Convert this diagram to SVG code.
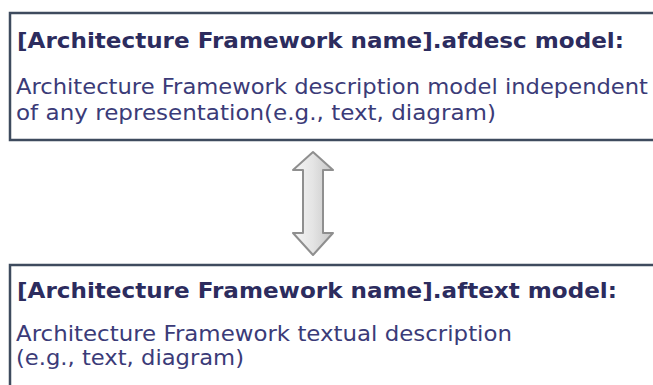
<svg xmlns="http://www.w3.org/2000/svg" width="653" height="385" viewBox="0 0 653 385">
<style>
.box{fill:#ffffff;stroke:#3e4b5e;stroke-width:2.5}
.title{font-family:"DejaVu Sans",Verdana,sans-serif;font-weight:bold;font-size:21px;fill:#2c2c5e}
.body{font-family:"DejaVu Sans",Tahoma,sans-serif;font-size:22px;fill:#3b3b78}
.arrow{fill:url(#ag);stroke:#8f8f8f;stroke-width:2;stroke-linejoin:round}
</style>
<defs>
<linearGradient id="ag" x1="0" y1="0" x2="1" y2="0">
<stop offset="0" stop-color="#f6f6f6"/>
<stop offset="0.5" stop-color="#e4e4e4"/>
<stop offset="1" stop-color="#c6c6c6"/>
</linearGradient>
</defs>
<rect width="653" height="385" fill="#ffffff"/>
<g id="afdesc">
<rect class="box" x="10" y="13" width="660" height="127"/>
<text class="title" x="17" y="48" textLength="607" lengthAdjust="spacingAndGlyphs">[Architecture Framework name].afdesc model:</text>
<text class="body" x="16" y="94" textLength="632" lengthAdjust="spacingAndGlyphs">Architecture Framework description model independent</text>
<text class="body" x="16" y="120" textLength="480" lengthAdjust="spacingAndGlyphs">of any representation(e.g., text, diagram)</text>
</g>
<g id="aftext">
<rect class="box" x="10" y="265" width="660" height="140"/>
<text class="title" x="17" y="298" textLength="600" lengthAdjust="spacingAndGlyphs">[Architecture Framework name].aftext model:</text>
<text class="body" x="16" y="341" textLength="496" lengthAdjust="spacingAndGlyphs">Architecture Framework textual description</text>
<text class="body" x="16" y="365" textLength="228" lengthAdjust="spacingAndGlyphs">(e.g., text, diagram)</text>
</g>
<g id="connectors">
<path class="arrow" d="M313,152 L333,170 L323,170 L323,233 L333,233 L313,255 L293,233 L303,233 L303,170 L293,170 Z"/>
</g>
</svg>
